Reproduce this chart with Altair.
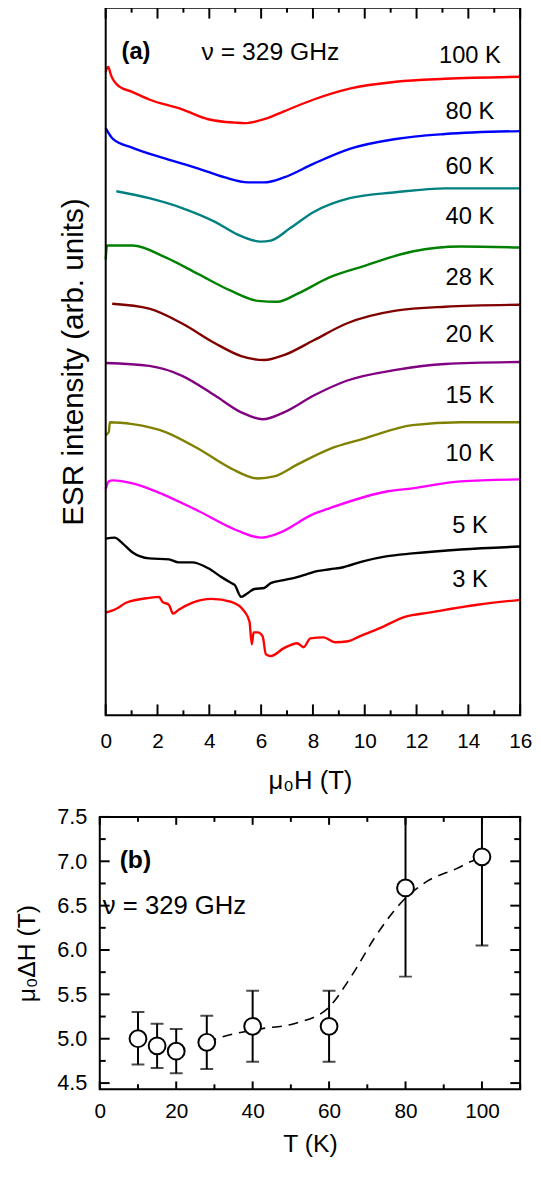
import altair as alt
import pandas as pd

FONT = "Liberation Sans"

# ---------------- Panel (a): ESR spectra (offset, arb. units) ----------------
curve_names = ["100 K", "80 K", "60 K", "40 K", "28 K", "20 K", "15 K", "10 K", "5 K", "3 K"]
curve_colors = ["#ff0000", "#0000ff", "#008080", "#008000", "#800000",
                "#800080", "#808000", "#ff00ff", "#000000", "#ff0000"]

H_100K = [0, 0.1, 0.2, 0.53, 1.0, 1.68, 2.95, 3.96, 5.0, 5.36, 6.12, 6.88, 8.03, 9.42, 11.2, 13.1, 16]
I_100K = [65.2, 65.7, 64.9, 63.7, 63.2, 62.4, 61.4, 60.4, 60.05, 60.0, 60.4, 61.2, 62.4, 63.5, 64.2, 64.5, 64.7]

H_80K = [0, 0.28, 1.04, 2.31, 3.58, 4.6, 5.49, 6.12, 6.88, 8.03, 9.42, 11.2, 13.1, 16]
I_80K = [59.5, 58.4, 57.5, 56.4, 55.4, 54.5, 54.0, 54.0, 54.5, 55.9, 57.4, 58.4, 58.9, 59.2]

H_60K = [0.41, 1.68, 2.95, 4.22, 5.1, 5.99, 6.37, 7.14, 8.03, 9.42, 11.2, 13.1, 16]
I_60K = [53.1, 52.4, 51.4, 50.0, 48.7, 48.0, 48.1, 49.4, 51.0, 52.4, 53.0, 53.4, 53.4]

H_40K = [0, 0.05, 1.04, 2.31, 3.58, 4.85, 5.87, 6.63, 7.39, 8.66, 9.93, 11.84, 13.7, 16]
I_40K = [46.2, 47.6, 47.6, 46.4, 44.7, 43.0, 42.0, 41.9, 42.7, 44.4, 45.5, 47.0, 47.5, 47.4]

H_28K = [0.25, 1.68, 2.95, 4.22, 5.23, 6.12, 6.88, 8.03, 9.3, 11.2, 13.1, 16]
I_28K = [41.7, 41.2, 39.7, 37.7, 36.4, 36.0, 36.5, 38.0, 39.7, 41.0, 41.4, 41.6]

H_20K = [0, 1.68, 2.95, 4.22, 5.23, 6.06, 6.88, 8.03, 9.3, 11.2, 13.1, 16]
I_20K = [35.7, 35.4, 34.4, 32.4, 30.7, 30.0, 30.7, 32.4, 33.9, 35.0, 35.6, 35.8]

H_15K = [0, 0.12, 0.16, 1.04, 2.31, 3.58, 4.85, 5.87, 6.5, 7.39, 8.66, 9.93, 11.84, 13.7, 16]
I_15K = [28.4, 28.7, 29.7, 29.5, 28.7, 27.0, 25.0, 24.0, 24.2, 25.4, 27.0, 28.0, 29.4, 29.7, 29.7]

H_10K = [0, 0.12, 0.28, 1.04, 1.93, 3.58, 5.1, 5.99, 6.63, 8.03, 8.66, 10.9, 11.84, 13.7, 16]
I_10K = [22.9, 23.7, 23.8, 23.5, 22.7, 20.7, 18.7, 18.0, 18.4, 20.4, 21.0, 22.7, 23.0, 23.7, 23.9]

H_5K = [0, 0.34, 0.66, 1.04, 1.68, 2.44, 2.82, 3.33, 3.96, 4.47, 4.85, 4.98, 5.23, 5.49,
        5.74, 6.12, 6.37, 6.88, 7.39, 7.77, 8.15, 8.66, 9.17, 9.93, 10.82, 11.84, 13.7, 16]
I_5K = [17.9, 18.0, 17.4, 16.5, 15.9, 15.8, 15.5, 15.5, 14.9, 14.0, 13.4, 13.2, 12.0, 12.4,
        12.8, 12.9, 13.4, 13.7, 14.0, 14.3, 14.6, 14.8, 15.0, 15.6, 16.1, 16.4, 16.8, 17.1]

H_3K = [0, 0.41, 0.79, 1.68, 2.06, 2.19, 2.44, 2.6, 2.82, 3.33, 4.09, 4.85, 5.36, 5.55, 5.64,
        5.71, 5.87, 6.06, 6.18, 6.37, 6.88, 7.39, 7.64, 7.9, 8.41, 8.85, 9.36, 9.8, 10.56,
        11.58, 12.47, 14.35, 16]
I_3K = [10.4, 10.8, 11.4, 11.9, 12.0, 11.5, 11.2, 10.3, 10.7, 11.4, 11.8, 11.5, 10.5, 9.5, 7.2,
        8.4, 8.4, 8.0, 6.2, 6.0, 6.8, 7.3, 6.9, 7.8, 7.9, 7.4, 7.5, 8.0, 8.8,
        10.0, 10.4, 11.2, 11.7]

curve_H = [H_100K, H_80K, H_60K, H_40K, H_28K, H_20K, H_15K, H_10K, H_5K, H_3K]
curve_I = [I_100K, I_80K, I_60K, I_40K, I_28K, I_20K, I_15K, I_10K, I_5K, I_3K]

label_H = [14.06] * 10
label_I = [66.8, 61.1, 55.6, 50.5, 44.3, 38.5, 32.3, 26.5, 19.2, 13.7]

A_H_RANGE = [-0.2286, 16]
A_I_RANGE = [0, 71.7]
A_major = [0, 2, 4, 6, 8, 10, 12, 14, 16]
A_minor = [1, 3, 5, 7, 9, 11, 13, 15]

# ---------------- Panel (b): linewidth vs temperature ----------------
T_vals = [10, 15, 20, 28, 40, 60, 80, 100]
dH_vals = [5.00, 4.92, 4.86, 4.96, 5.14, 5.14, 6.70, 7.05]
dH_low = [4.71, 4.67, 4.61, 4.66, 4.74, 4.74, 5.70, 6.05]
dH_high = [5.30, 5.17, 5.11, 5.26, 5.54, 5.54, 7.70, 8.05]

guide_T = [28, 31.2, 41.8, 50.8, 59.6, 65.9, 72.1, 79.2, 85.5, 93.5, 97.9, 100]
guide_dH = [4.96, 5.01, 5.11, 5.17, 5.34, 5.71, 6.15, 6.55, 6.77, 6.92, 7.01, 7.03]

B_T_RANGE = [0, 110]
B_Y_RANGE = [4.43, 7.5]
B_x_major = [0, 20, 40, 60, 80, 100]
B_x_minor = [10, 30, 50, 70, 90, 110]
B_y_major = [4.5, 5.0, 5.5, 6.0, 6.5, 7.0, 7.5]
B_y_minor = [4.75, 5.25, 5.75, 6.25, 6.75, 7.25]

# ---------------- build tables ----------------
rows = []
for name, hs, iv in zip(curve_names, curve_H, curve_I):
    for k, (h, i) in enumerate(zip(hs, iv)):
        rows.append({"curve": name, "H": h, "I": i, "k": k})
curves = pd.DataFrame(rows)
labels_a = pd.DataFrame({"curve": curve_names, "H": label_H, "I": label_I})
pts = pd.DataFrame({"T": T_vals, "dH": dH_vals, "lo": dH_low, "hi": dH_high})
guide = pd.DataFrame({"T": guide_T, "dH": guide_dH})
ONE = pd.DataFrame({"a": [0]})

# ---------------- scales and axes ----------------
xs_a = alt.Scale(domain=A_H_RANGE, nice=False, zero=False)
ys_a = alt.Scale(domain=A_I_RANGE, nice=False, zero=False)
xs_b = alt.Scale(domain=B_T_RANGE, nice=False, zero=False)
ys_b = alt.Scale(domain=B_Y_RANGE, nice=False, zero=False)

xaxis_a = alt.Axis(values=A_major, ticks=False, tickSize=0, domain=False, grid=False,
                   labelFontSize=21, labelPadding=16, labelColor="black", labelFont=FONT,
                   labelFlush=False, minExtent=0,
                   title="μ₀H (T)", titleFontSize=26, titlePadding=16,
                   titleFontWeight="normal", titleColor="black", titleFont=FONT)
yaxis_a = alt.Axis(ticks=False, tickSize=0, labels=False, domain=False, grid=False,
                   minExtent=0, maxExtent=0,
                   title="ESR intensity (arb. units)", titleFontSize=30, titlePadding=11,
                   titleFontWeight="normal", titleColor="black", titleFont=FONT)
xaxis_b = alt.Axis(values=B_x_major, ticks=False, tickSize=0, domain=False, grid=False,
                   labelFontSize=21, labelPadding=12, labelColor="black", labelFont=FONT,
                   labelFlush=False, minExtent=0,
                   title="T (K)", titleFontSize=25, titlePadding=10,
                   titleFontWeight="normal", titleColor="black", titleFont=FONT)
yaxis_b = alt.Axis(values=B_y_major, format=".1f", ticks=False, tickSize=0, domain=False,
                   grid=False, labelFontSize=22, labelPadding=13, labelColor="black",
                   labelFont=FONT, labelFlush=False, minExtent=0,
                   title="μ₀ΔH (T)", titleFontSize=25, titlePadding=18,
                   titleFontWeight="normal", titleColor="black", titleFont=FONT)

XA = dict(scale=xs_a, axis=xaxis_a)
YA = dict(scale=ys_a, axis=yaxis_a)
XB = dict(scale=xs_b, axis=xaxis_b)
YB = dict(scale=ys_b, axis=yaxis_b)


def xticks(values, X, Y, y_at, length):
    """inward tick marks along a horizontal frame edge"""
    return alt.Chart(pd.DataFrame({"v": values})).mark_rule(
        color="black", strokeWidth=2, y2Offset=length).encode(
        x=alt.X("v:Q", **X), y=alt.datum(y_at, **Y), y2=alt.datum(y_at))


def yticks(values, X, Y, x_at, length):
    """inward tick marks along a vertical frame edge"""
    return alt.Chart(pd.DataFrame({"v": values})).mark_rule(
        color="black", strokeWidth=2, x2Offset=length).encode(
        y=alt.Y("v:Q", **Y), x=alt.datum(x_at, **X), x2=alt.datum(x_at))


# ---------------- panel (a) ----------------
lines_a = alt.Chart(curves).mark_line(strokeWidth=2.4, interpolate="monotone").encode(
    x=alt.X("H:Q", **XA),
    y=alt.Y("I:Q", **YA),
    color=alt.Color("curve:N", scale=alt.Scale(domain=curve_names, range=curve_colors), legend=None),
    detail="curve:N",
    order="k:Q",
)
text_a = alt.Chart(labels_a).mark_text(font=FONT, fontSize=24, align="center",
                                       baseline="middle", color="black").encode(
    x=alt.X("H:Q", **XA), y=alt.Y("I:Q", **YA), text="curve:N")
frame_a = alt.Chart(ONE).mark_rect(filled=False, color="black", strokeWidth=2).encode(
    x=alt.datum(0, **XA), x2=alt.datum(16),
    y=alt.datum(A_I_RANGE[0], **YA), y2=alt.datum(A_I_RANGE[1]))
tag_a = alt.Chart(ONE).mark_text(font=FONT, fontSize=24, fontWeight="bold", align="left",
                                 baseline="middle", color="black").encode(
    x=alt.datum(0.61, **XA), y=alt.datum(67.2, **YA), text=alt.value("(a)"))
nu_a = alt.Chart(ONE).mark_text(font=FONT, fontSize=25, align="left",
                                baseline="middle", color="black").encode(
    x=alt.datum(3.7, **XA), y=alt.datum(67.2, **YA), text=alt.value("ν = 329 GHz"))

panel_a = alt.layer(
    lines_a, text_a, tag_a, nu_a, frame_a,
    xticks(A_major, XA, YA, A_I_RANGE[0], -11),
    xticks(A_minor, XA, YA, A_I_RANGE[0], -5),
    xticks(A_major, XA, YA, A_I_RANGE[1], 11),
    xticks(A_minor, XA, YA, A_I_RANGE[1], 5),
).properties(width=426, height=717, view=alt.ViewBackground(stroke="transparent"))

# ---------------- panel (b) ----------------
guide_line = alt.Chart(guide).mark_line(color="black", strokeWidth=1.6, strokeDash=[10, 7],
                                        interpolate="monotone").encode(
    x=alt.X("T:Q", **XB), y=alt.Y("dH:Q", **YB))
err = alt.Chart(pts).mark_rule(color="black", strokeWidth=2, clip=True).encode(
    x=alt.X("T:Q", **XB), y=alt.Y("lo:Q", **YB), y2="hi:Q")
cap_lo = alt.Chart(pts).mark_tick(color="black", orient="horizontal", size=13, thickness=2,
                                  clip=True).encode(
    x=alt.X("T:Q", **XB), y=alt.Y("lo:Q", **YB))
cap_hi = alt.Chart(pts).mark_tick(color="black", orient="horizontal", size=13, thickness=2,
                                  clip=True).encode(
    x=alt.X("T:Q", **XB), y=alt.Y("hi:Q", **YB))
circles = alt.Chart(pts).mark_point(shape="circle", size=290, fill="white", fillOpacity=1,
                                    stroke="black", strokeWidth=2, opacity=1).encode(
    x=alt.X("T:Q", **XB), y=alt.Y("dH:Q", **YB))
tag_b = alt.Chart(ONE).mark_text(font=FONT, fontSize=25, fontWeight="bold", align="left",
                                 baseline="middle", color="black").encode(
    x=alt.datum(5.2, **XB), y=alt.datum(7.01, **YB), text=alt.value("(b)"))
nu_b = alt.Chart(ONE).mark_text(font=FONT, fontSize=26, align="left",
                                baseline="middle", color="black").encode(
    x=alt.datum(0.8, **XB), y=alt.datum(6.5, **YB), text=alt.value("ν = 329 GHz"))

panel_b = alt.layer(
    guide_line, err, cap_lo, cap_hi, circles, tag_b, nu_b,
    xticks(B_x_major, XB, YB, B_Y_RANGE[0], -8),
    xticks(B_x_minor, XB, YB, B_Y_RANGE[0], -5),
    xticks(B_x_major, XB, YB, B_Y_RANGE[1], 8),
    xticks(B_x_minor, XB, YB, B_Y_RANGE[1], 5),
    yticks(B_y_major, XB, YB, B_T_RANGE[0], 10),
    yticks(B_y_minor, XB, YB, B_T_RANGE[0], 6),
    yticks(B_y_major, XB, YB, B_T_RANGE[1], -10),
    yticks(B_y_minor, XB, YB, B_T_RANGE[1], -6),
).properties(width=426, height=276, view=alt.ViewBackground(stroke="black", strokeWidth=2))

chart = alt.concat(panel_a, panel_b, columns=1, align="each", spacing=11).properties(
    padding={"left": 5, "top": -10, "right": 0, "bottom": 0}
).configure(font=FONT)

chart.save("out.html", embed_options={"renderer": "svg", "actions": False})
